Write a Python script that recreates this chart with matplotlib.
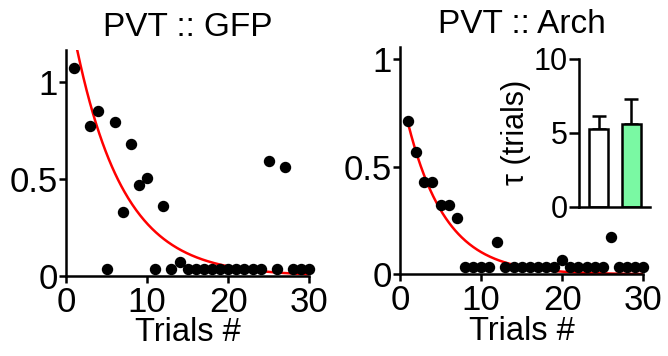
import numpy as np
import matplotlib
matplotlib.use("Agg")
import matplotlib.pyplot as plt

plt.rcParams['font.family'] = ['Liberation Sans', 'DejaVu Sans']

# ---- data ----
gfp_trials = [1, 3, 4, 5, 6, 7, 8, 9, 10, 11, 12, 13, 14, 15, 16, 17, 18, 19, 20,
              21, 22, 23, 24, 25, 26, 27, 28, 29, 30]
gfp_values = [1.07, 0.77, 0.85, 0.035, 0.79, 0.33, 0.68, 0.47, 0.505, 0.035, 0.36,
              0.035, 0.07, 0.035, 0.035, 0.035, 0.035, 0.035, 0.035, 0.035, 0.035,
              0.035, 0.035, 0.59, 0.035, 0.56, 0.035, 0.035, 0.035]
gfp_fit_amp, gfp_fit_tau = 1.47, 5.9

arch_trials = list(range(1, 31))
arch_values = [0.71, 0.57, 0.43, 0.43, 0.32, 0.32, 0.26, 0.035, 0.035, 0.035, 0.035,
               0.15, 0.035, 0.035, 0.035, 0.035, 0.035, 0.035, 0.035, 0.065, 0.035,
               0.035, 0.035, 0.035, 0.035, 0.175, 0.035, 0.035, 0.035, 0.035]
arch_fit_amp, arch_fit_tau = 0.866, 4.7

tau_groups = ['GFP', 'Arch']
tau_means = [5.24, 5.62]
tau_sem = [0.88, 1.67]
tau_colors = ['white', '#7AF9A3']

titles = ['PVT :: GFP', 'PVT :: Arch']
xticks = [0, 10, 20, 30]
yticks = [0, 0.5, 1]
yticklabels = ['0', '0.5', '1']

W, H = 668, 356
fig = plt.figure(figsize=(W / 100, H / 100), dpi=100)

LW = 1.8
TICKFS = 25
LABFS = 23.5
TITFS = 24


def px_axes(x0, x1, ybot, ytop):
    return fig.add_axes([x0 / W, 1 - ybot / H, (x1 - x0) / W, (ybot - ytop) / H])


def style(ax):
    for s in ['top', 'right']:
        ax.spines[s].set_visible(False)
    for s in ['left', 'bottom']:
        ax.spines[s].set_linewidth(LW)
    ax.tick_params(width=LW, length=5, labelsize=TICKFS, pad=1)


panels = [
    (px_axes(66, 309.3, 276, 50), gfp_trials, gfp_values, gfp_fit_amp, gfp_fit_tau, 1.163),
    (px_axes(400, 643.3, 274.3, 46.7), arch_trials, arch_values, arch_fit_amp, arch_fit_tau, 1.057),
]

for i, (ax, tr, vals, amp, tau, ytop) in enumerate(panels):
    style(ax)
    t = np.linspace(1, 30, 300)
    ax.plot(t, amp * np.exp(-t / tau), color='#ff0000', lw=1.8, zorder=2)
    ax.plot(tr, vals, 'o', color='black', ms=7.2, clip_on=False, zorder=3)
    ax.set_xlim(0, 30)
    ax.set_ylim(0, ytop)
    ax.set_xticks(xticks)
    ax.set_yticks(yticks)
    ax.set_yticklabels(yticklabels)
    ax.tick_params(axis='x', pad=2)
    ax.set_xlabel('Trials #', fontsize=LABFS, labelpad=-1)
    ax.set_title(titles[i], fontsize=TITFS, pad=10)

# inset bar chart
ins = px_axes(579, 650, 206.7, 59)
for s in ['top', 'right']:
    ins.spines[s].set_visible(False)
for s in ['left', 'bottom']:
    ins.spines[s].set_linewidth(LW)
xpos = np.arange(len(tau_groups))
ins.bar(xpos, tau_means, width=0.59, color=tau_colors, edgecolor='black', linewidth=LW, zorder=2)
ins.errorbar(xpos, tau_means, yerr=[np.zeros(len(tau_sem)), tau_sem], fmt='none',
             ecolor='black', elinewidth=LW, capsize=5, capthick=LW, zorder=1)
ins.set_xlim(-0.6, 1.57)
ins.set_ylim(0, 10)
ins.set_yticks([0, 5, 10])
ins.set_xticks([])
ins.tick_params(axis='y', width=LW, length=7, labelsize=22, pad=1)
ins.set_ylabel('τ (trials)', fontsize=22, labelpad=2)

fig.savefig('out.png', dpi=100)
